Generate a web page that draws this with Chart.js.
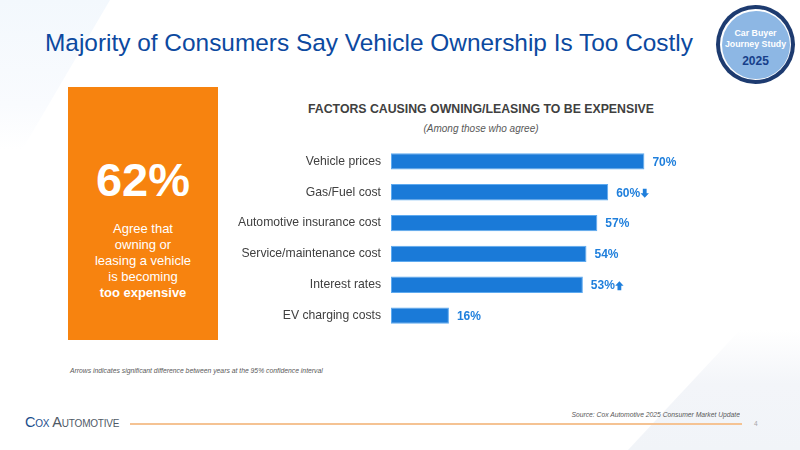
<!DOCTYPE html>
<html>
<head>
<meta charset="utf-8">
<script src="https://cdn.jsdelivr.net/npm/chart.js@4.4.1/dist/chart.umd.min.js"></script>
<style>
  html, body { margin: 0; padding: 0; background: #ffffff; }
  #page { position: relative; width: 800px; height: 450px; overflow: hidden; background: #ffffff; font-family: "Liberation Sans", Arial, sans-serif; }
  .abs { position: absolute; white-space: nowrap; }
  #bgTL { position: absolute; left: 0; top: 0; width: 110px; height: 150px; background: linear-gradient(180deg, #f3f8fd 0%, #f9fbfe 70%, rgba(255,255,255,0) 100%); clip-path: polygon(0 0, 100% 0, 20% 100%, 0 100%); }
  #bgBR { position: absolute; left: 600px; top: 330px; width: 200px; height: 120px; background: linear-gradient(180deg, rgba(242,245,249,0) 0%, #f3f5f9 45%, #f1f4f8 100%); clip-path: polygon(14% 100%, 70% 0, 100% 0, 100% 100%); }
  #title { left: 45px; top: 28px; font-size: 24.5px; line-height: 30px; color: #0c49a0; transform-origin: 0 0; }
  #badge { left: 716px; top: 5px; width: 79px; height: 79px; border-radius: 50%; background: #1d3b70; }
  #badgeWhite { position: absolute; left: 4px; top: 4px; width: 71px; height: 71px; border-radius: 50%; background: #ffffff; }
  #badgeBlue { position: absolute; left: 1.5px; top: 1.5px; width: 68px; height: 68px; border-radius: 50%; background: #8db7e4; }
  .bt { position: absolute; left: 0; width: 79px; text-align: center; color: #ffffff; font-size: 8.8px; font-weight: bold; line-height: 12px; }
  #orange { left: 68px; top: 87px; width: 150px; height: 253px; background: #f7830f; }
  #big { left: 68px; top: 155px; width: 150px; text-align: center; color: #ffffff; font-weight: bold; font-size: 47px; line-height: 50px; }
  #agree { left: 68px; top: 221px; width: 150px; text-align: center; color: #ffffff; font-size: 13px; line-height: 16px; white-space: normal; }
  #ctitle { left: 230px; top: 101px; width: 502px; text-align: center; color: #404040; font-weight: bold; font-size: 12.3px; line-height: 16px; }
  #csub { left: 230px; top: 123px; width: 502px; text-align: center; color: #595959; font-style: italic; font-size: 10px; line-height: 12px; }
  #note { left: 70px; top: 366px; font-size: 6.8px; line-height: 9px; font-style: italic; color: #595959; }
  #logo { left: 25px; top: 413px; font-size: 14.5px; line-height: 18px; font-variant: small-caps; letter-spacing: -0.2px; font-family: "Liberation Sans", "DejaVu Sans", sans-serif; }
  #logo .cox { color: #1c4f8c; }
  #logo .auto { color: #4f5966; }
  #rule { left: 130px; top: 423px; width: 612px; height: 1.5px; background: #f5c393; }
  #source { left: 440px; top: 409px; width: 300px; text-align: right; font-size: 7.5px; line-height: 11px; font-style: italic; color: #595959; transform-origin: 100% 50%; transform: scaleX(0.9); }
  #pnum { left: 754px; top: 419px; font-size: 6.5px; line-height: 9px; color: #a6a6a6; }
  #chartWrap { position: absolute; left: 230px; top: 146px; width: 523px; height: 185px; }
</style>
</head>
<body>
<div id="page">
  <div id="bgTL"></div>
  <div id="bgBR"></div>
  <div id="title" class="abs">Majority of Consumers Say Vehicle Ownership Is Too Costly</div>
  <div id="badge" class="abs">
    <div id="badgeWhite"><div id="badgeBlue"></div></div>
    <div class="bt" style="top:22px;">Car Buyer</div>
    <div class="bt" style="top:33px;">Journey Study</div>
    <div class="bt" style="top:49px; color:#173f8a; font-weight:bold; font-size:12px; line-height:14px;">2025</div>
  </div>
  <div id="orange" class="abs"></div>
  <div id="big" class="abs">62%</div>
  <div id="agree" class="abs">Agree that<br>owning or<br>leasing a vehicle<br>is becoming<br><b>too expensive</b></div>
  <div id="ctitle" class="abs">FACTORS CAUSING OWNING/LEASING TO BE EXPENSIVE</div>
  <div id="csub" class="abs">(Among those who agree)</div>
  <div id="chartWrap"><canvas id="chart"></canvas></div>
  <div id="note" class="abs">Arrows indicates significant difference between years at the 95% confidence interval</div>
  <div id="logo" class="abs"><span class="cox">Cox</span> <span class="auto">Automotive</span></div>
  <div id="rule" class="abs"></div>
  <div id="source" class="abs">Source: Cox Automotive 2025 Consumer Market Update</div>
  <div id="pnum" class="abs">4</div>
</div>
<script>
// ---- data ----
const categories = ["Vehicle prices", "Gas/Fuel cost", "Automotive insurance cost", "Service/maintenance cost", "Interest rates", "EV charging costs"];
const values = [70, 60, 57, 54, 53, 16];
const arrows = ["", "down", "", "", "up", ""];

// fit title width
(function () {
  const t = document.getElementById('title');
  const w = t.getBoundingClientRect().width;
  const target = 648;
  if (w > 0) t.style.transform = 'scaleX(' + (target / w) + ')';
})();

const BAR = '#1a7ad8';
const LABEL = '#1f7fdc';

const valueLabels = {
  id: 'valueLabels',
  afterDatasetsDraw(chart) {
    const ctx = chart.ctx;
    const meta = chart.getDatasetMeta(0);
    ctx.save();
    ctx.font = 'bold 12px "Liberation Sans", Arial, sans-serif';
    ctx.fillStyle = LABEL;
    ctx.textBaseline = 'middle';
    ctx.textAlign = 'left';
    meta.data.forEach((bar, i) => {
      const txt = values[i] + '%';
      const x = bar.x + 8;
      const y = bar.y + 1;
      ctx.fillText(txt, x, y);
      const w = ctx.measureText(txt).width;
      const dir = arrows[i];
      if (dir) {
        const cx = x + w + 4.5;
        const hw = 4.2, sw = 1.9, h = 4.5;
        ctx.beginPath();
        if (dir === 'down') {
          ctx.moveTo(cx - sw, y - h);
          ctx.lineTo(cx + sw, y - h);
          ctx.lineTo(cx + sw, y);
          ctx.lineTo(cx + hw, y);
          ctx.lineTo(cx, y + h);
          ctx.lineTo(cx - hw, y);
          ctx.lineTo(cx - sw, y);
        } else {
          ctx.moveTo(cx - sw, y + h);
          ctx.lineTo(cx + sw, y + h);
          ctx.lineTo(cx + sw, y);
          ctx.lineTo(cx + hw, y);
          ctx.lineTo(cx, y - h);
          ctx.lineTo(cx - hw, y);
          ctx.lineTo(cx - sw, y);
        }
        ctx.closePath();
        ctx.fill();
      }
    });
    ctx.restore();
  }
};

const chart = new Chart(document.getElementById('chart'), {
  type: 'bar',
  data: {
    labels: categories,
    datasets: [{
      data: values,
      backgroundColor: BAR,
      borderColor: '#5eaaf0',
      borderWidth: 1,
      borderSkipped: false,
      barPercentage: 0.53,
      categoryPercentage: 1
    }]
  },
  options: {
    indexAxis: 'y',
    responsive: true,
    maintainAspectRatio: false,
    animation: false,
    layout: { padding: 0, autoPadding: false },
    plugins: { legend: { display: false }, tooltip: { enabled: false }, title: { display: false } },
    scales: {
      x: { display: false, min: 0, max: 100 },
      y: {
        grid: { display: false, drawTicks: false },
        border: { display: false },
        ticks: { color: '#404040', font: { size: 12.2, family: '"Liberation Sans", Arial, sans-serif' }, padding: 10 },
        afterFit(axis) { axis.width = 161; axis.paddingTop = 0; axis.paddingBottom = 0; }
      }
    }
  },
  plugins: [valueLabels]
});
</script>
</body>
</html>
